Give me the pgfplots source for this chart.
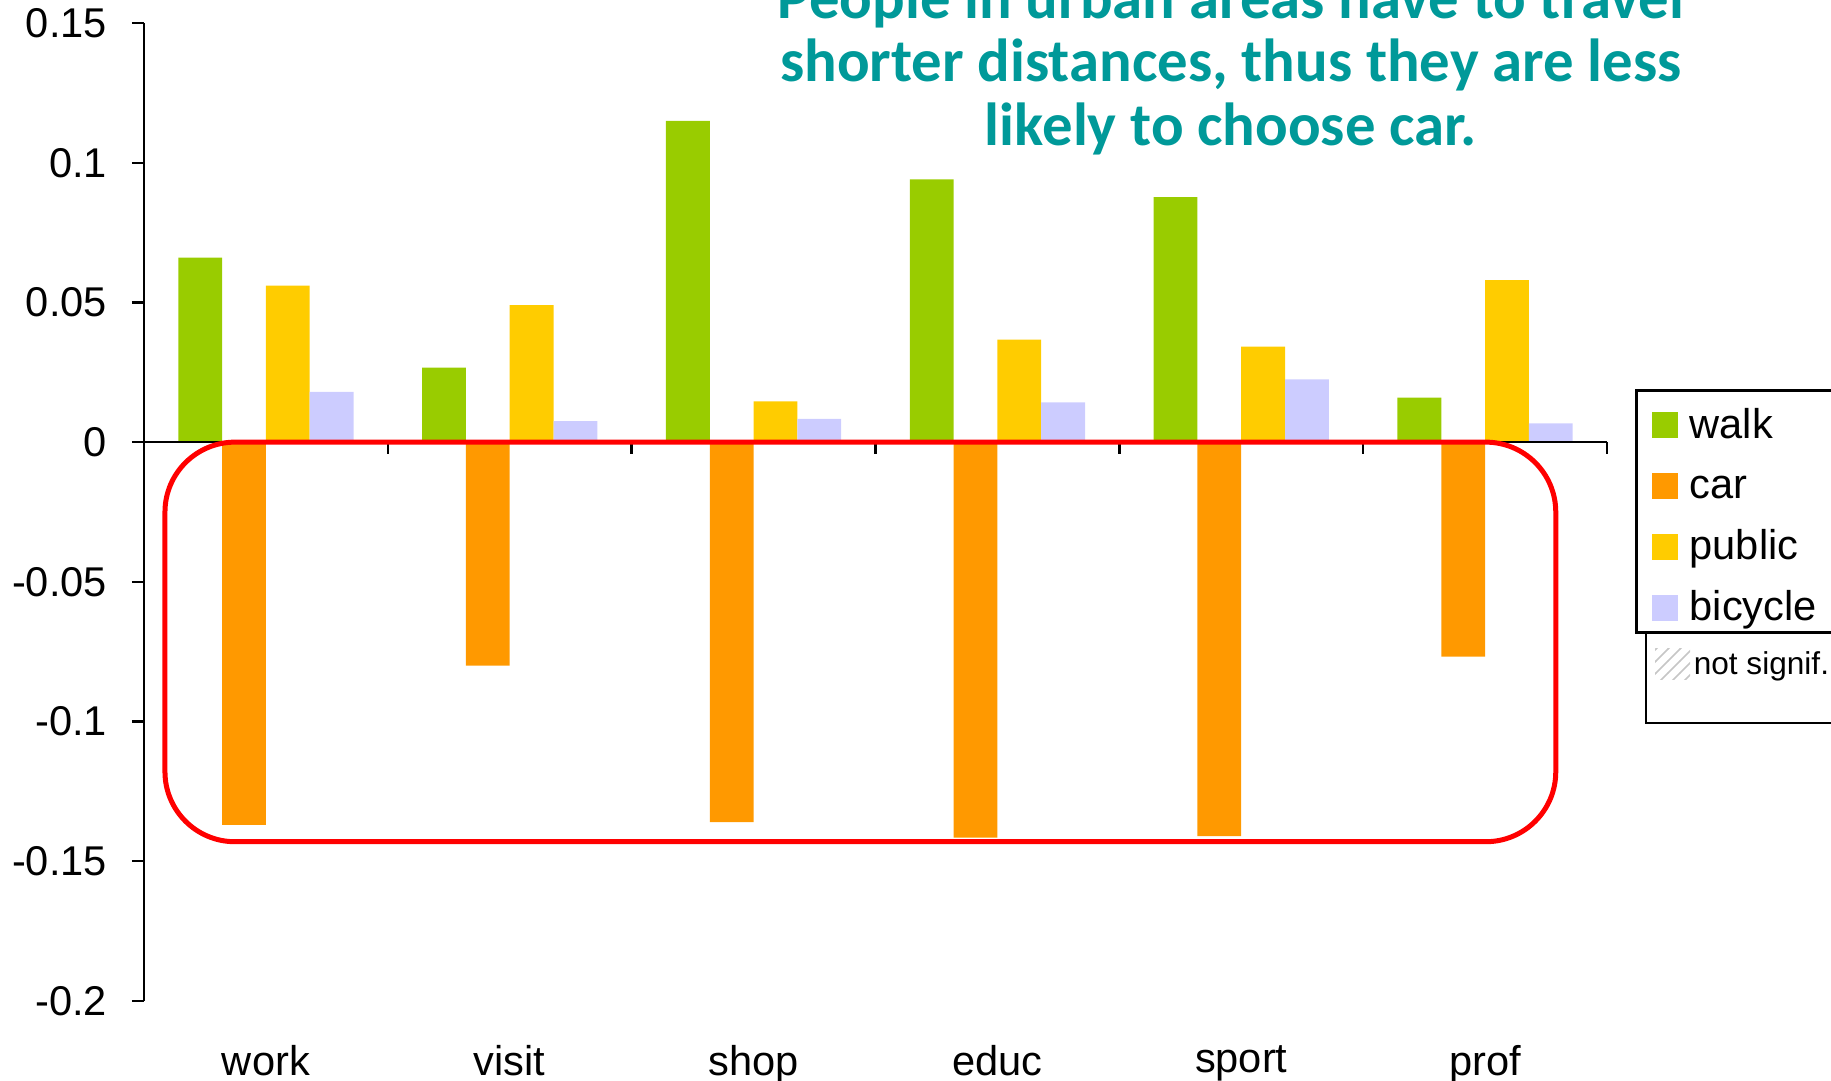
\documentclass[border=0pt]{standalone}
\usepackage{fontspec}
\setmainfont{Liberation Sans}
\newfontfamily\titlefont{Carlito}
\usepackage{pgfplots}
\pgfplotsset{compat=1.18}
\usetikzlibrary{patterns}
\definecolor{walkc}{HTML}{99CC00}
\definecolor{carc}{HTML}{FF9900}
\definecolor{publicc}{HTML}{FFCC00}
\definecolor{bicyclec}{HTML}{CCCCFF}
\definecolor{titlec}{HTML}{009999}
\begin{document}
\begin{tikzpicture}
\begin{axis}[
  at={(0,0)}, anchor=south west,
  scale only axis, width=365.75pt, height=244.5pt,
  xmin=-0.5, xmax=5.5, ymin=-0.2, ymax=0.15,
  axis y line*=left, axis x line*=bottom,
  x axis line style={draw=none},
  axis line style={line width=0.6pt},
  xtick={0,1,2,3,4,5},
  xticklabels={work,visit,shop,educ,sport,prof},
  x tick style={draw=none},
  ytick={-0.2,-0.15,-0.1,-0.05,0,0.05,0.1,0.15},
  yticklabels={-0.2,-0.15,-0.1,-0.05,0,0.05,0.1,0.15},
  y tick style={black, line width=0.6pt},
  tick align=outside, major tick length=3pt,
  tick label style={font=\fontsize{10.4}{12}\selectfont},
  yticklabel style={xshift=-2.75pt},
  xticklabel style={yshift=-4.6pt},
  ybar=0pt, bar width=10.95pt,
  clip=false,
  legend style={at={(1.0191,0.6258)}, anchor=north west, draw=black, line width=0.75pt,
    font=\fontsize{10.4}{12}\selectfont, inner xsep=4pt, inner ysep=2.4pt, row sep=5.2pt,
    nodes={inner ysep=0pt, text height=9.5pt, text depth=0.5pt},
    cells={anchor=west}, /tikz/every odd column/.append style={column sep=0.8pt}},
]
\addplot[fill=walkc, draw=none, legend image code/.code={\fill[walkc] (0pt,-4.55pt) rectangle (6.5pt,1.95pt);}]
  coordinates {(0,0.066) (1,0.0267) (2,0.115) (3,0.094) (4,0.0877) (5,0.0159)};
\addplot[fill=carc, draw=none, legend image code/.code={\fill[carc] (0pt,-4.55pt) rectangle (6.5pt,1.95pt);}]
  coordinates {(0,-0.137) (1,-0.080) (2,-0.136) (3,-0.1415) (4,-0.141) (5,-0.0768)};
\addplot[fill=publicc, draw=none, legend image code/.code={\fill[publicc] (0pt,-4.55pt) rectangle (6.5pt,1.95pt);}]
  coordinates {(0,0.056) (1,0.049) (2,0.0146) (3,0.0367) (4,0.0342) (5,0.058)};
\addplot[fill=bicyclec, draw=none, legend image code/.code={\fill[bicyclec] (0pt,-4.55pt) rectangle (6.5pt,1.95pt);}]
  coordinates {(0,0.018) (1,0.0075) (2,0.0083) (3,0.0142) (4,0.0225) (5,0.0067)};
\legend{walk,car,public,bicycle}
\draw[line width=0.6pt] (axis cs:-0.5,0) -- (axis cs:5.5,0);
\pgfplotsinvokeforeach{0.5,1.5,2.5,3.5,4.5,5.5}{\draw[line width=0.6pt] (axis cs:#1,0) -- ++(0pt,-3pt);}
\draw[red, line width=1.25pt, rounded corners=17.5pt] (axis cs:-0.414,0) rectangle (axis cs:5.29,-0.143);
\end{axis}
\begin{scope}[font=\titlefont\bfseries\fontsize{15.2}{18}\selectfont, text=titlec]
\node[anchor=base, inner sep=0] at (271.75pt,245.55pt) {People in urban areas have to travel};
\node[anchor=base, inner sep=0] at (271.75pt,229.8pt) {shorter distances, thus they are less};
\node[anchor=base, inner sep=0] at (271.75pt,213.8pt) {likely to choose car.};
\end{scope}
\draw[line width=0.5pt] (375.5pt,92.25pt) rectangle (440pt,69.5pt);
\fill[pattern=north east lines, pattern color=gray!45] (377.75pt,80.25pt) rectangle (386.5pt,88pt);
\node[anchor=base west, inner sep=0, font=\fontsize{7.9}{9}\selectfont] at (387.25pt,81.5pt) {not signif.};
\pgfresetboundingbox
\path[use as bounding box] (-36pt,-20pt) rectangle (421.75pt,250.25pt);
\end{tikzpicture}
\end{document}
